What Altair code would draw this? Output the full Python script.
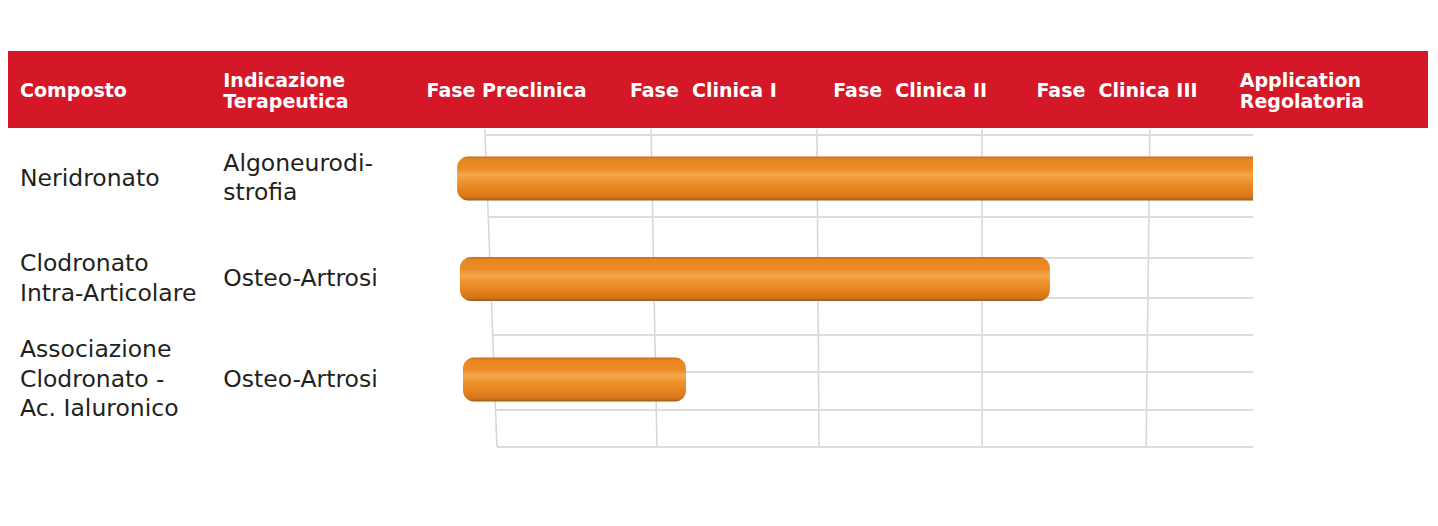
import altair as alt
import pandas as pd

# ---- data ----
headers = ["Composto", "Indicazione\nTerapeutica", "Fase Preclinica",
           "Fase\u00a0 Clinica I", "Fase\u00a0 Clinica II", "Fase\u00a0 Clinica III",
           "Application\nRegolatoria"]
compounds = ["Neridronato", "Clodronato\nIntra-Articolare",
             "Associazione\nClodronato -\nAc. Ialuronico"]
indications = ["Algoneurodi-\nstrofia", "Osteo-Artrosi", "Osteo-Artrosi"]
bar_start = [2.150, 2.164, 2.179]
bar_end = [6.065, 5.066, 3.276]
grid_x_top = [2.287, 3.104, 3.920, 4.732, 5.558]
grid_x_bottom = [2.346, 3.133, 3.930, 4.732, 5.539]
grid_y = [0.567, 0.975, 1.383, 1.791, 2.189, 2.557, 2.925, 3.303, 3.672]
grid_top = 0.507
grid_right = 6.065

# ---- layout ----
W, H = 1420, 506
PX_X, PX_Y = 203.3, 100.5
x_min = -12 / PX_X
x_max = (W - 12) / PX_X
y_min = -70 / PX_Y
y_max = (H - 70) / PX_Y
header_y = 0.134
band_top, band_bottom = -0.2687, 0.4975
half_bar = 0.219
HEAD_LH, BODY_LH = 21, 29.5


def centred(row, label, lh):
    n = label.count("\n") + 1
    return row - (n - 1) / 2 * lh / PX_Y


xs = alt.Scale(domain=[x_min, x_max], nice=False, zero=False)
ys = alt.Scale(domain=[y_min, y_max], nice=False, zero=False, reverse=True)

band_df = pd.DataFrame({"x": [x_min], "x2": [x_max], "y": [band_top], "y2": [band_bottom]})
band = alt.Chart(band_df).mark_rect(color="#D41828").encode(
    x=alt.X("x:Q", scale=xs, axis=None), x2="x2:Q",
    y=alt.Y("y:Q", scale=ys, axis=None), y2="y2:Q")

head_df = pd.DataFrame({"label": headers, "col": list(range(len(headers))),
                        "row": [centred(header_y, h, HEAD_LH) for h in headers]})
head = alt.Chart(head_df).mark_text(
    align="left", baseline="middle", lineBreak="\n", lineHeight=HEAD_LH,
    font="DejaVu Sans", fontWeight="bold", fontSize=19, color="white").encode(
    x=alt.X("col:Q", scale=xs, axis=None),
    y=alt.Y("row:Q", scale=ys, axis=None), text="label:N")

vgrid_df = pd.DataFrame({"xt": grid_x_top, "xb": grid_x_bottom,
                         "yt": [grid_top] * len(grid_x_top),
                         "yb": [grid_y[-1]] * len(grid_x_top)})
vgrid = alt.Chart(vgrid_df).mark_rule(color="#D6D6D6", strokeWidth=1.5).encode(
    x=alt.X("xt:Q", scale=xs, axis=None), x2="xb:Q",
    y=alt.Y("yt:Q", scale=ys, axis=None), y2="yb:Q")

x0t, x0b = grid_x_top[0], grid_x_bottom[0]
left = [x0t + (x0b - x0t) * (g - grid_top) / (grid_y[-1] - grid_top) for g in grid_y]
hgrid_df = pd.DataFrame({"xl": left, "xr": [grid_right] * len(grid_y), "y": grid_y})
hgrid = alt.Chart(hgrid_df).mark_rule(color="#DCDCDC", strokeWidth=2).encode(
    x=alt.X("xl:Q", scale=xs, axis=None), x2="xr:Q",
    y=alt.Y("y:Q", scale=ys, axis=None))

rows = [1, 2, 3]
bar_df = pd.DataFrame({"start": bar_start, "end": bar_end,
                       "top": [r - half_bar for r in rows],
                       "bottom": [r + half_bar for r in rows],
                       "flat": [e >= grid_right for e in bar_end]})
grad = alt.Gradient(gradient="linear", x1=0, x2=0, y1=0, y2=1, stops=[
    alt.GradientStop(color="#C46C1A", offset=0.0),
    alt.GradientStop(color="#E8861F", offset=0.06),
    alt.GradientStop(color="#EB8C26", offset=0.28),
    alt.GradientStop(color="#F4A84C", offset=0.42),
    alt.GradientStop(color="#EE9632", offset=0.54),
    alt.GradientStop(color="#E47F1B", offset=0.80),
    alt.GradientStop(color="#D47318", offset=0.93),
    alt.GradientStop(color="#9C5A1A", offset=1.0)])
benc = dict(x=alt.X("start:Q", scale=xs, axis=None), x2="end:Q",
            y=alt.Y("top:Q", scale=ys, axis=None), y2="bottom:Q")
bars_round = alt.Chart(bar_df).transform_filter("!datum.flat").mark_rect(
    fill=grad, cornerRadius=11).encode(**benc)
bars_flat = alt.Chart(bar_df).transform_filter("datum.flat").mark_rect(
    fill=grad, cornerRadiusTopLeft=11, cornerRadiusBottomLeft=11).encode(**benc)

body_labels = compounds + indications
body_rows = rows + rows
body_df = pd.DataFrame({"label": body_labels,
                        "col": [0] * 3 + [1] * 3,
                        "row": [centred(r, l, BODY_LH) for r, l in zip(body_rows, body_labels)]})
body = alt.Chart(body_df).mark_text(
    align="left", baseline="middle", lineBreak="\n", lineHeight=BODY_LH,
    font="DejaVu Sans", fontSize=23.5, color="#231F20").encode(
    x=alt.X("col:Q", scale=xs, axis=None),
    y=alt.Y("row:Q", scale=ys, axis=None), text="label:N")

chart = alt.layer(band, head, vgrid, hgrid, bars_round, bars_flat, body).properties(
    width=W, height=H, padding=0, background="white",
    autosize=alt.AutoSizeParams(type="fit", contains="padding")
).configure_view(stroke=None)

chart.save("out.html", embed_options={"renderer": "svg", "actions": False})
